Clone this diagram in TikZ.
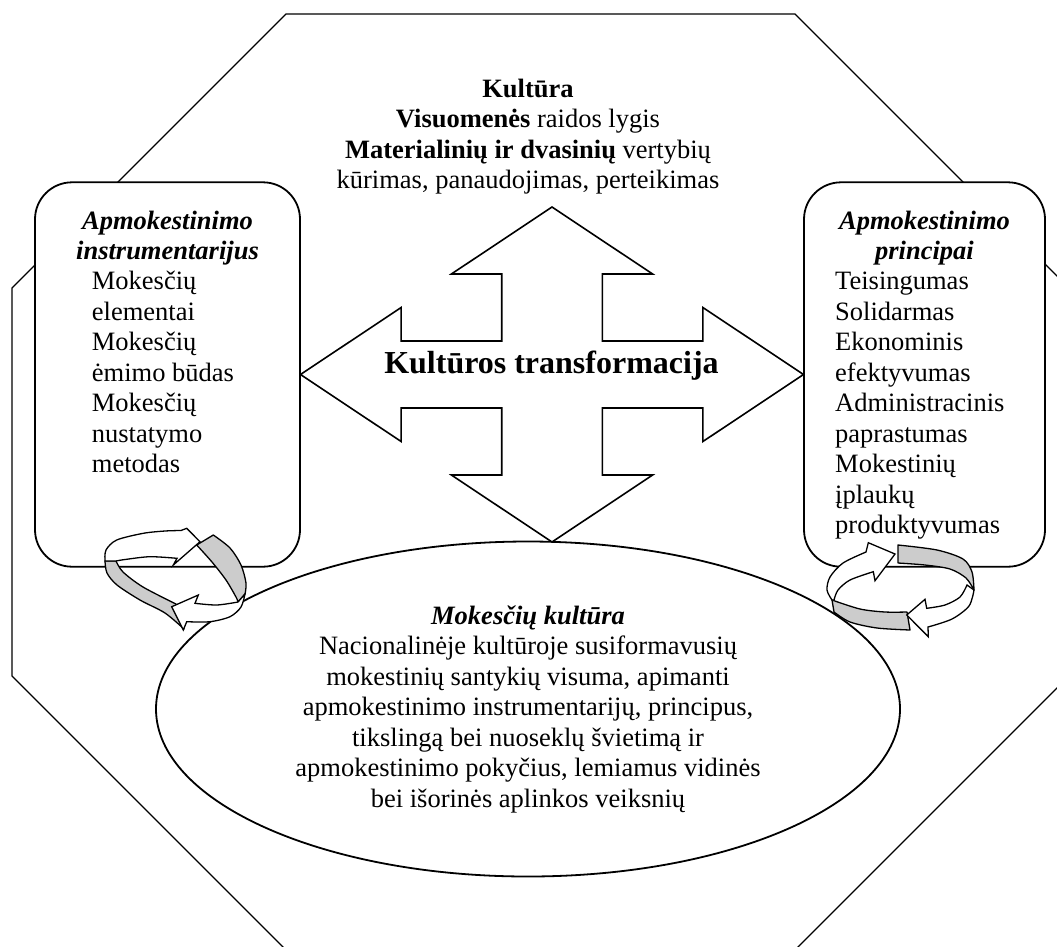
\documentclass[tikz,border=0pt]{standalone}
\usepackage{fontspec}
\setmainfont{Liberation Serif}
\usetikzlibrary{shapes.geometric}
\begin{document}
\begin{tikzpicture}[x=1pt,y=-1pt,
  txt/.style={inner sep=0pt, font=\fontsize{26.5}{30.5}\selectfont},
  ttl/.style={txt, anchor=base, font=\fontsize{26.5}{30.5}\selectfont\bfseries\itshape},
  body/.style={txt, anchor=base west},
  frame/.style={draw, line width=1.3pt, line join=miter},
  box/.style={draw, line width=1.8pt, fill=white, rounded corners=37pt, inner sep=0pt},
  quad/.style={draw, line width=1.6pt, fill=white, line join=miter},
  rg/.style={draw, line width=1.3pt, fill=gray!40, line join=round},
  rw/.style={draw, line width=1.3pt, fill=white, line join=miter}]
\useasboundingbox (0,0) rectangle (1057,946);
\clip (0,0) rectangle (1057,946);

% outer octagon
\draw[frame] (286,14) -- (795,14) -- (1069,288) -- (1069,676) -- (795,950)
  -- (286,950) -- (12,676) -- (12,288) -- cycle;

% side boxes
\node[box, minimum width=265pt, minimum height=384.4pt] (instr) at (167.5,374.5) {};
\node[box, minimum width=241pt, minimum height=384.4pt] (princ) at (924.5,374.5) {};

% tax culture ellipse
\node[draw, ellipse, line width=1.8pt, fill=white, inner sep=0pt,
  minimum width=744pt, minimum height=335pt] (mk) at (528,709) {};

% four-headed arrow
\begin{scope}[shift={(552pt,-374.5pt)}, x=251.5pt, y=167.5pt]
\filldraw[quad] (0,1) -- (0.4,0.6) -- (0.2,0.6) -- (0.2,0.2) -- (0.6,0.2) -- (0.6,0.4)
  -- (1,0) -- (0.6,-0.4) -- (0.6,-0.2) -- (0.2,-0.2) -- (0.2,-0.6) -- (0.4,-0.6)
  -- (0,-1) -- (-0.4,-0.6) -- (-0.2,-0.6) -- (-0.2,-0.2) -- (-0.6,-0.2) -- (-0.6,-0.4)
  -- (-1,0) -- (-0.6,0.4) -- (-0.6,0.2) -- (-0.2,0.2) -- (-0.2,0.6) -- (-0.4,0.6) -- cycle;
\end{scope}
\node[txt, anchor=base, font=\fontsize{32}{36}\selectfont\bfseries] (kt) at (551.5,373) {Kultūros transformacija};

% culture heading
\node[txt, anchor=base] (k1) at (528,97) {\textbf{Kultūra}};
\node[txt, anchor=base] (k2) at (528,127.5) {\textbf{Visuomenės} raidos lygis};
\node[txt, anchor=base] (k3) at (528,158) {\textbf{Materialinių ir dvasinių} vertybių};
\node[txt, anchor=base] (k4) at (528,188.5) {kūrimas, panaudojimas, perteikimas};

% taxation instruments
\node[ttl] (it1) at (167.5,229) {Apmokestinimo};
\node[ttl] (it2) at (167.5,259) {instrumentarijus};
\foreach \t [count=\i] in {Mokesčių, elementai, Mokesčių, ėmimo būdas, Mokesčių, nustatymo, metodas}
  \node[body] (il\i) at (91.7,{289.5+30.5*(\i-1)}) {\t};

% taxation principles
\node[ttl] (pt1) at (924.5,229) {Apmokestinimo};
\node[ttl] (pt2) at (924.5,259) {principai};
\foreach \t [count=\i] in {Teisingumas, Solidarmas, Ekonominis, efektyvumas, Administracinis,
  paprastumas, Mokestinių, įplaukų, produktyvumas}
  \node[body] (pl\i) at (835,{289.5+30.5*(\i-1)}) {\t};

% tax culture text
\node[ttl] (mt) at (528,624) {Mokesčių kultūra};
\foreach \t [count=\i] in {{Nacionalinėje kultūroje susiformavusių},
  {mokestinių santykių visuma, apimanti},
  {apmokestinimo instrumentarijų, principus,},
  {tikslingą bei nuoseklų švietimą ir},
  {apmokestinimo pokyčius, lemiamus vidinės},
  {bei išorinės aplinkos veiksnių}}
  \node[txt, anchor=base] (ml\i) at (528,{624+30.5*\i}) {\t};

% cycle arrows, left: grey ribbon parts first, white arrow parts on top
\filldraw[rg] (196.7,545) -- (213.3,535)
  -- plot[smooth] coordinates {(213.3,535) (230,548) (241,565) (246,583) (245,594)}
  -- (238,602)
  -- plot[smooth] coordinates {(238,602) (236,597) (226,580) (212,562) (196.7,545)} -- cycle;
\filldraw[rg] (105,561)
  -- plot[smooth] coordinates {(105,561) (107,573) (117,585) (140,600) (165,613) (184,629)}
  -- (176,604)
  -- plot[smooth] coordinates {(176,604) (143,587) (123,572) (116,561)} -- cycle;
\filldraw[rw] (245,594)
  -- plot[smooth] coordinates {(245,594) (241,607) (230,616.7) (210,621.7) (186.7,621.7)}
  -- (183.3,630) -- (171.7,606.7) -- (198.3,595) -- (195,603.3)
  -- plot[smooth] coordinates {(195,603.3) (216.7,605) (238,602)} -- cycle;
\filldraw[rw] (105,561)
  -- plot[smooth] coordinates {(105,561) (106,550) (116.7,540) (143.3,533.3) (165,531) (181,530.5)}
  -- (186.7,528.3) -- (200,541.7) -- (173.3,565) -- (177,558.3)
  -- plot[smooth] coordinates {(177,558.3) (150,556.7) (125,559.5) (116,561)} -- cycle;

% cycle arrows, right
\filldraw[rg] plot[smooth] coordinates {(898,545) (937,550) (963,559) (972,572) (974,590)}
  -- plot[smooth] coordinates {(974,590) (966,578) (950,569) (925,565) (898,563)} -- cycle;
\filldraw[rg] plot[smooth] coordinates {(832,600) (860,609) (885,612) (907,612)} -- (910,630)
  -- plot[smooth] coordinates {(910,630) (877,628) (850,622) (834,612)} -- cycle;
\filldraw[rw] plot[smooth] coordinates {(974,590) (969,606) (952,619) (928,627)}
  -- (928.3,636.7) -- (906.7,615) -- (925,599.3) -- (926.7,608.3)
  -- plot[smooth] coordinates {(926.7,608.3) (945,605) (960,597) (967,585)} -- cycle;
\filldraw[rw] plot[smooth] coordinates {(832,600) (827,590) (830,577) (843,563) (866,552)}
  -- (868.3,542.7) -- (895,554) -- (875,580.7) -- (873.3,571.7)
  -- plot[smooth] coordinates {(873.3,571.7) (850,580) (838,590) (834,600)} -- cycle;
\end{tikzpicture}
\end{document}
